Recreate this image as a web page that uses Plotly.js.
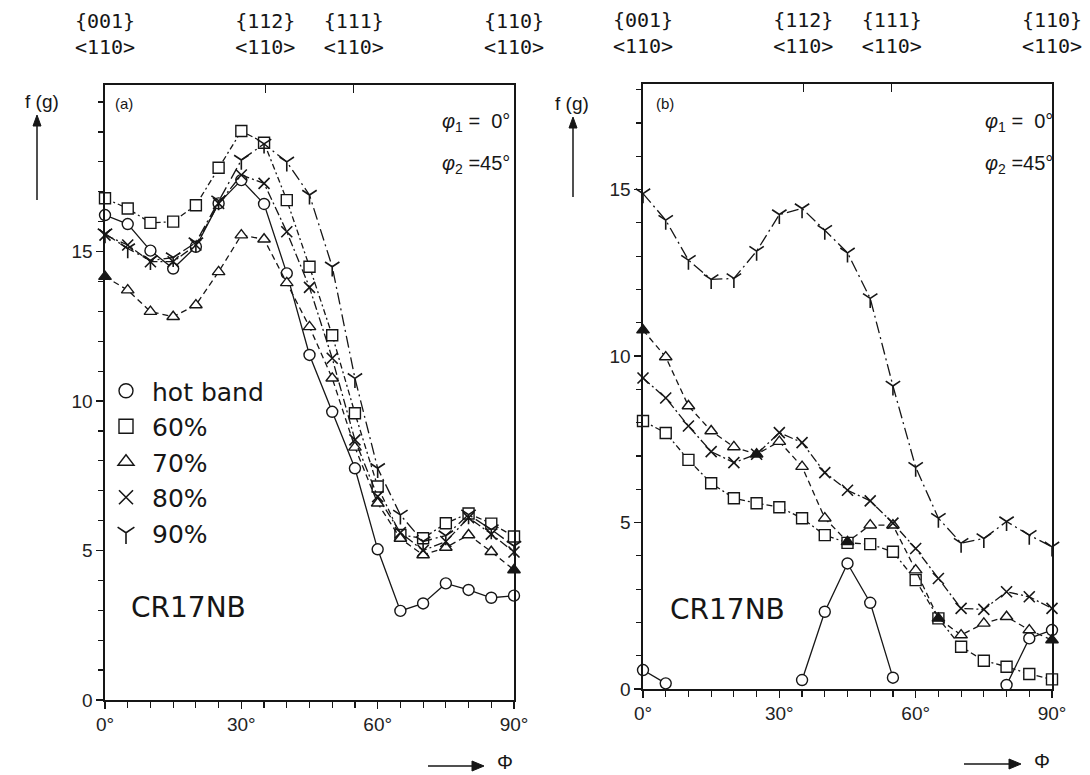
<!DOCTYPE html>
<html>
<head>
<meta charset="utf-8">
<script src="https://cdn.plot.ly/plotly-3.0.1.min.js"></script>
<style>
html,body{margin:0;padding:0;background:#fff;}
#chart{width:1090px;height:775px;}
</style>
</head>
<body>
<div id="chart"></div>
<script>
// ---------- data ----------
const phi = [0,5,10,15,20,25,30,35,40,45,50,55,60,65,70,75,80,85,90];

// panel (a)
const aHotBand = [16.22,15.92,15.03,14.43,15.16,16.61,17.39,16.59,14.27,11.54,9.64,7.75,5.04,2.98,3.23,3.90,3.68,3.42,3.49];
const a60 = [16.78,16.44,15.96,16.00,16.55,17.80,19.03,18.64,16.72,14.49,12.20,9.59,7.14,5.52,5.41,5.91,6.24,5.90,5.47];
const a70 = [14.16,13.71,12.99,12.82,13.21,14.32,15.55,15.41,13.95,12.48,10.76,8.45,6.58,5.40,4.85,5.10,5.52,4.96,4.35];
const a80 = [15.55,15.22,14.66,14.66,15.22,16.61,17.56,17.28,15.66,13.80,11.43,8.70,6.80,5.60,5.00,5.30,6.10,5.55,4.95];
const a90 = [15.60,15.10,14.70,14.80,15.30,16.70,18.06,18.60,18.00,16.89,14.49,10.76,7.75,6.19,5.30,5.50,6.20,5.70,5.15];

// panel (b)
const bHotBand = [0.57,0.17,null,null,null,null,null,0.27,2.32,3.77,2.59,0.34,null,null,null,null,0.12,1.52,1.77];
const b60 = [8.05,7.69,6.88,6.18,5.73,5.58,5.46,5.13,4.62,4.39,4.35,4.12,3.27,2.12,1.27,0.85,0.67,0.45,0.29];
const b70 = [10.78,9.97,8.50,7.75,7.27,7.05,7.43,6.68,5.13,4.42,4.92,4.92,3.57,2.12,1.62,1.97,2.17,1.77,1.47];
const b80 = [9.34,8.74,7.90,7.13,6.80,7.05,7.70,7.40,6.50,5.97,5.65,4.98,4.22,3.32,2.42,2.39,2.92,2.77,2.42];
const b90 = [14.88,14.08,12.88,12.30,12.33,13.15,14.25,14.43,13.78,13.10,11.73,9.10,6.66,5.13,4.38,4.52,5.03,4.62,4.27];

// series names
const seriesNames = ['hot band','60%','70%','80%','90%'];

// axis tick labels
const yTickVals = [0,5,10,15];

// orientation labels on the top axis
const orientAngles = [0,35.26,54.74,90];
const orientPlanes = ['{001}','{112}','{111}','{110}'];
const orientDirs = ['&lt;110&gt;','&lt;110&gt;','&lt;110&gt;','&lt;110&gt;'];
const orientText = orientPlanes.map((p,i)=>p + '<br>' + orientDirs[i]);

// ---------- styles ----------
const INK = '#161616';
const W = 1090, H = 775;
const px = v => v / W;
const py = v => 1 - v / H;

const aTriFill = [INK,'white','white','white','white','white','white','white','white','white','white','white','white','white','white','white','white','white',INK];
const bTriFill = [INK,'white','white','white','white',INK,'white','white','white',INK,'white','white','white',INK,'white','white','white','white',INK];

function styles(triFill){
  return [
    {symbol:'circle', color:'white', size:11, line:{color:INK,width:1.4}, dash:'solid'},
    {symbol:'square', color:'white', size:11, line:{color:INK,width:1.4}, dash:'6px,3px,2px,3px'},
    {symbol:'triangle-up', color:triFill, size:11, line:{color:INK,width:1.4}, dash:'6px,4px'},
    {symbol:'x-thin', color:INK, size:11, line:{color:INK,width:1.6}, dash:'9px,3px,2px,3px'},
    {symbol:'y-down', color:INK, size:12, line:{color:INK,width:1.6}, dash:'12px,4px,2px,4px'}
  ];
}

function mk(x, y, st, xa, ya){
  return {
    x: x, y: y, xaxis: xa, yaxis: ya, type:'scatter', mode:'lines+markers',
    showlegend:false, cliponaxis:false, connectgaps:false,
    line:{color:INK, width:1.3, dash:st.dash},
    marker:{symbol:st.symbol, size:st.size, color:st.color, line:st.line}
  };
}

const aSeries = [aHotBand,a60,a70,a80,a90];
const bSeries = [bHotBand,b60,b70,b80,b90];
const sa = styles(aTriFill), sb = styles(bTriFill);

const traces = [];
aSeries.forEach((s,i)=>traces.push(mk(phi, s, sa[i], 'x', 'y')));
bSeries.forEach((s,i)=>traces.push(mk(phi, s, sb[i], 'x2', 'y2')));

// legend-only entries (markers only)
const legSt = styles('white');
seriesNames.forEach((n,i)=>{
  traces.push({
    x:[null], y:[null], xaxis:'x', yaxis:'y', type:'scatter', mode:'markers', name:n,
    showlegend:true,
    marker:{symbol:legSt[i].symbol, size:14, color: legSt[i].color, line:{color:INK,width:legSt[i].line.width}}
  });
});
// anchors for top orientation axes
traces.push({x:[], y:[], xaxis:'x3', yaxis:'y', type:'scatter', showlegend:false});
traces.push({x:[], y:[], xaxis:'x4', yaxis:'y2', type:'scatter', showlegend:false});

const tickFont = {family:'Liberation Sans, Arial, sans-serif', size:19, color:'#222'};

function xAxis(domain, anchor){
  return {
    domain: domain, anchor: anchor, range:[0,90], dtick:30, tick0:0, ticksuffix:'°',
    ticks:'outside', ticklen:7, tickwidth:1.3, tickcolor:INK,
    minor:{dtick:5, tick0:0, ticks:'outside', ticklen:6, tickwidth:1.2, tickcolor:INK, showgrid:false},
    showline:true, linewidth:1.6, linecolor:INK, mirror:true,
    showgrid:false, zeroline:false, tickfont:tickFont, fixedrange:true
  };
}
function yAxis(domain, anchor, top){
  return {
    domain: domain, anchor: anchor, range:[0,top], tickmode:'array', tickvals:yTickVals,
    ticks:'outside', ticklen:7, tickwidth:1.3, tickcolor:INK,
    minor:{dtick:1, tick0:0, ticks:'outside', ticklen:5, tickwidth:1.2, tickcolor:INK, showgrid:false},
    showline:true, linewidth:1.6, linecolor:INK, mirror:true,
    showgrid:false, zeroline:false, tickfont:tickFont, fixedrange:true
  };
}
function topAxis(over, anchor){
  return {
    overlaying: over, anchor: anchor, side:'top', range:[0,90],
    tickmode:'array', tickvals: orientAngles, ticktext: orientText,
    ticks:'inside', ticklen:8, tickwidth:1.4, tickcolor:INK,
    showticklabels:true, ticklabelstandoff:26,
    tickfont:{family:'DejaVu Sans Mono, monospace', size:20, color:INK},
    showline:false, showgrid:false, zeroline:false, fixedrange:true
  };
}

const annotations = [];
const sansF = (s)=>({family:'Liberation Sans, Arial, sans-serif', size:s, color:INK});
const dejaF = (s)=>({family:'DejaVu Sans, sans-serif', size:s, color:INK});

// f (g) labels
annotations.push({xref:'paper', yref:'paper', x:px(42), y:py(101), text:'f (g)', showarrow:false, font:sansF(19), xanchor:'center', yanchor:'middle'});
annotations.push({xref:'paper', yref:'paper', x:px(572), y:py(103), text:'f (g)', showarrow:false, font:sansF(19), xanchor:'center', yanchor:'middle'});
// Φ labels
annotations.push({xref:'paper', yref:'paper', x:px(505), y:py(762), text:'Φ', showarrow:false, font:sansF(20), xanchor:'center', yanchor:'middle'});
annotations.push({xref:'paper', yref:'paper', x:px(1042), y:py(761), text:'Φ', showarrow:false, font:sansF(20), xanchor:'center', yanchor:'middle'});
// panel letters
annotations.push({xref:'paper', yref:'paper', x:px(124), y:py(103), text:'(a)', showarrow:false, font:sansF(15), xanchor:'center', yanchor:'middle'});
annotations.push({xref:'paper', yref:'paper', x:px(665), y:py(103), text:'(b)', showarrow:false, font:sansF(15), xanchor:'center', yanchor:'middle'});
// phi1 / phi2
[512,1055].forEach(rx=>{
  annotations.push({xref:'paper', yref:'paper', x:px(rx), y:py(123), text:'<i>φ</i><sub>1</sub> =  0°', showarrow:false, font:sansF(20), xanchor:'right', yanchor:'middle'});
  annotations.push({xref:'paper', yref:'paper', x:px(rx), y:py(164), text:'<i>φ</i><sub>2</sub> =45°', showarrow:false, font:sansF(20), xanchor:'right', yanchor:'middle'});
});
// sample name
annotations.push({xref:'paper', yref:'paper', x:px(188), y:py(607), text:'CR17NB', showarrow:false, font:dejaF(28), xanchor:'center', yanchor:'middle'});
annotations.push({xref:'paper', yref:'paper', x:px(727), y:py(609), text:'CR17NB', showarrow:false, font:dejaF(28), xanchor:'center', yanchor:'middle'});

// arrows as shapes (shaft + head)
function vArrow(x, yTail, yTip){
  return [
    {type:'line', xref:'paper', yref:'paper', x0:px(x), x1:px(x), y0:py(yTail), y1:py(yTip+6), line:{color:INK, width:1.5}},
    {type:'path', xref:'paper', yref:'paper', path:`M ${px(x-4)} ${py(yTip+11)} L ${px(x)} ${py(yTip)} L ${px(x+4)} ${py(yTip+11)} Z`, fillcolor:INK, line:{color:INK, width:1}}
  ];
}
function hArrow(xTail, xTip, y){
  return [
    {type:'line', xref:'paper', yref:'paper', x0:px(xTail), x1:px(xTip-8), y0:py(y), y1:py(y), line:{color:INK, width:1.6}},
    {type:'path', xref:'paper', yref:'paper', path:`M ${px(xTip-12)} ${py(y-5)} L ${px(xTip)} ${py(y)} L ${px(xTip-12)} ${py(y+5)} Z`, fillcolor:INK, line:{color:INK, width:1}}
  ];
}
const shapes = [].concat(vArrow(37,200,115), vArrow(573,197,117), hArrow(428,484,766), hArrow(964,1021,764));

const layout = {
  width:W, height:H, margin:{l:0,r:0,t:0,b:0},
  paper_bgcolor:'white', plot_bgcolor:'white',
  showlegend:true,
  legend:{x:px(100), y:py(368), xanchor:'left', yanchor:'top', font:dejaF(25), bgcolor:'rgba(0,0,0,0)', borderwidth:0, tracegroupgap:0, itemsizing:'trace', itemwidth:42},
  xaxis: xAxis([px(105), px(514)], 'y'),
  yaxis: yAxis([py(700), py(85)], 'x', 20.57),
  xaxis2: xAxis([px(643), px(1052)], 'y2'),
  yaxis2: yAxis([py(689), py(84)], 'x2', 18.17),
  xaxis3: topAxis('x','y'),
  xaxis4: topAxis('x2','y2'),
  annotations: annotations,
  shapes: shapes
};

Plotly.newPlot('chart', traces, layout, {displayModeBar:false, staticPlot:true});
</script>
</body>
</html>
